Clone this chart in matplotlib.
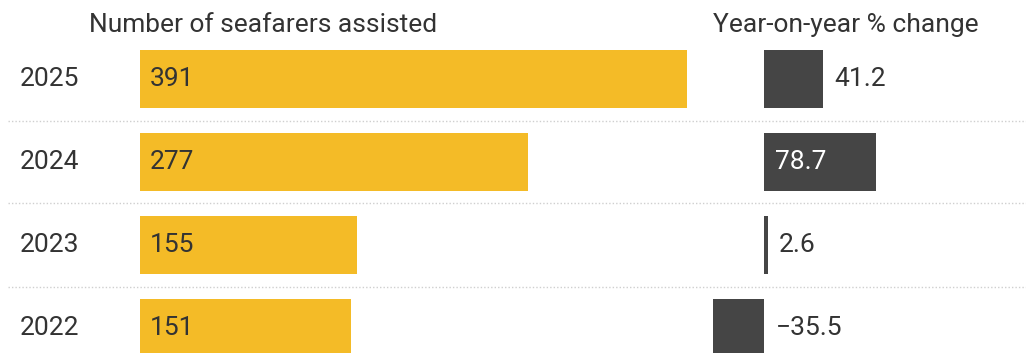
import matplotlib
matplotlib.use("Agg")
import matplotlib.pyplot as plt

plt.rcParams['font.family'] = ['Roboto', 'DejaVu Sans']

years = ['2025', '2024', '2023', '2022']
seafarers = [391, 277, 155, 151]
pct_change = [41.2, 78.7, 2.6, -35.5]

YELLOW = '#F4BB27'
DARK = '#454545'
TEXT = '#333333'
FS = 19

W, H = 1026, 353
fig = plt.figure(figsize=(W / 100, H / 100), dpi=100)

# rows: centre of row i sits at 79 + 83*i pixels from the top
ylim = ((H - 79) / 83, -79 / 83)
rows = range(len(years))

# background axes for year labels, headers and dotted separators
bg = fig.add_axes([0, 0, 1, 1])
bg.set_xlim(0, W)
bg.set_ylim(*ylim)
bg.axis('off')
for i in rows:
    bg.text(20, i, years[i], ha='left', va='center', fontsize=FS, color=TEXT)
for i in list(rows)[:-1]:
    bg.plot([8, W], [i + 0.5, i + 0.5], color='#cfcfcf', lw=1, ls=(0, (1, 1.5)))
bg.text(263, -0.65, 'Number of seafarers assisted', ha='center', va='center',
        fontsize=FS, color=TEXT)
bg.text(846, -0.65, 'Year-on-year % change', ha='center', va='center',
        fontsize=FS, color=TEXT)

# seafarers assisted
ax1 = fig.add_axes([140 / W, 0, 560 / W, 1])
ax1.set_xlim(0, 560 / 1.399)
ax1.set_ylim(*ylim)
ax1.axis('off')
ax1.barh(list(rows), seafarers, height=0.7, color=YELLOW)
for i, v in zip(rows, seafarers):
    ax1.text(7, i, str(v), ha='left', va='center', fontsize=FS, color=TEXT)

# year-on-year change
ax2 = fig.add_axes([700 / W, 0, 326 / W, 1])
ax2.set_xlim(-64 / 1.425, 262 / 1.425)
ax2.set_ylim(*ylim)
ax2.axis('off')
ax2.barh(list(rows), pct_change, height=0.7, color=DARK)
for i, v in zip(rows, pct_change):
    label = f'{v:.1f}'.replace('-', '\u2212')
    if v > 60:
        ax2.text(8, i, label, ha='left', va='center', fontsize=FS, color='white')
    else:
        ax2.text(max(v, 0) + 8, i, label, ha='left', va='center', fontsize=FS, color=TEXT)

fig.savefig('out.png', dpi=100, facecolor='white')
